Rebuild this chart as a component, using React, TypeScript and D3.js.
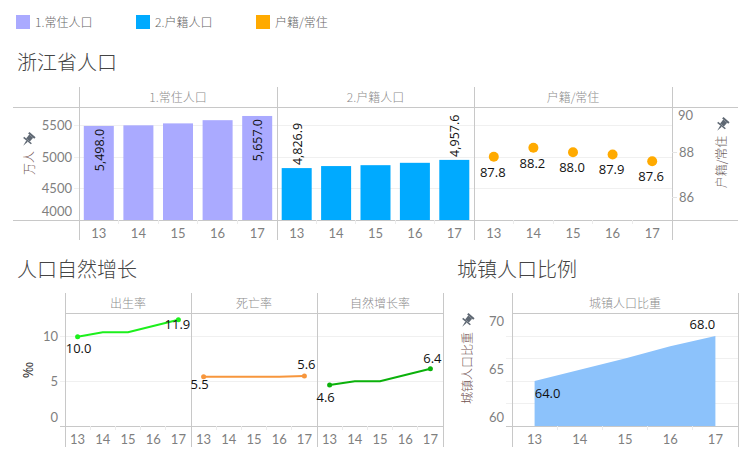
import { scaleBand, scaleLinear, line, area, format } from 'd3'

const years = ['13', '14', '15', '16', '17']
const residents = [5498, 5508, 5539, 5590, 5657]
const registered = [4826.9, 4859.2, 4873.3, 4910.9, 4957.6]
const ratio = [87.8, 88.2, 88.0, 87.9, 87.6]
const birthRate = [10.0, 10.5, 10.5, 11.2, 11.9]
const deathRate = [5.5, 5.5, 5.5, 5.5, 5.6]
const naturalRate = [4.6, 5.0, 5.0, 5.7, 6.4]
const urbanShare = [64.0, 65.0, 66.0, 67.1, 68.0]

const popTicks = [5500, 5000, 4500, 4000]
const ratioTicks = [88, 86]
const rateTicks = [10, 5, 0]
const urbanTicks = [70, 65, 60]

const LINE = '#c8c8c8'
const GRID = '#f0f0f0'
const TICK = '#7f7f7f'
const HEAD = '#8c8c8c'
const TITLE = '#444'
const CJK = '"Noto Sans CJK SC", sans-serif'
const NUM = 'Lato, sans-serif'
const LABEL = '"Open Sans", sans-serif'

const fmt1 = format(',.1f')
const fix1 = format('.1f')

// top row
const topY = { header: 87, top: 107, bottom: 220, end: 240 }
const topX = [79, 277, 474, 672]
const popY = scaleLinear().domain([4000, 5800]).range([220, 107])
const ratioY = scaleLinear().domain([85, 90]).range([220, 107])

// bottom row
const botY = { header: 293, top: 313, bottom: 426, end: 447 }
const botX = [65, 191, 317, 443]
const rateY = scaleLinear().domain([0, 12.65]).range([426, 313])
const urbanX = [512, 738]
const urbanY = scaleLinear().domain([60, 70]).range([426, 313.5])

function band(x0: number, x1: number) {
  return scaleBand<string>().domain(years).range([x0, x1])
}
function mid(b: ReturnType<typeof band>, y: string) {
  return (b(y) ?? 0) + b.bandwidth() / 2
}

function Pin({ x, y }: { x: number; y: number }) {
  return (
    <g transform={`translate(${x},${y}) rotate(40)`} fill="#5f6873">
      <rect x={-4} y={-7} width={8} height={2} />
      <rect x={-2.5} y={-5} width={5} height={5} />
      <path d="M-5 0 L5 0 L5 1.5 L-5 1.5 Z" />
      <path d="M-1 1.5 L0 7.5 L1 1.5 Z" />
    </g>
  )
}

function Cats({ x0, x1, y }: { x0: number; x1: number; y: number }) {
  const b = band(x0, x1)
  return (
    <g>
      {years.map((c, i) => (
        <g key={c}>
          {i > 0 && <line x1={b(c)} x2={b(c)} y1={y} y2={y + 4} stroke="#ececec" />}
          <text x={mid(b, c)} y={y + 18} textAnchor="middle" fontFamily={NUM} fontSize={13} fill={TICK}>
            {c}
          </text>
        </g>
      ))}
    </g>
  )
}

function Head({ x0, x1, y, text }: { x0: number; x1: number; y: number; text: string }) {
  return (
    <text x={(x0 + x1) / 2} y={y} textAnchor="middle" fontFamily={CJK} fontSize={12} fontWeight={300} fill={HEAD}>
      {text}
    </text>
  )
}

function Bars({ x0, x1, values, fill, inside }: { x0: number; x1: number; values: number[]; fill: string; inside: boolean }) {
  const b = band(x0, x1)
  return (
    <g>
      {values.map((v, i) => (
        <rect key={i} x={mid(b, years[i]) - 15} y={popY(v)} width={30} height={220 - popY(v)} fill={fill} />
      ))}
      {[0, 4].map((i) => {
        const cx = mid(b, years[i])
        const cy = popY(values[i]) + (inside ? 3 : -3)
        return (
          <text
            key={i}
            transform={`translate(${cx + 5},${cy}) rotate(-90)`}
            textAnchor={inside ? 'end' : 'start'}
            fontFamily={LABEL}
            fontSize={12.5}
            fill="#111"
          >
            {fmt1(values[i])}
          </text>
        )
      })}
    </g>
  )
}

function RateLine({
  x0,
  x1,
  values,
  color,
  offsets,
}: {
  x0: number
  x1: number
  values: number[]
  color: string
  offsets: [number, number][]
}) {
  const b = band(x0, x1)
  const d = line<number>()
    .x((_, i) => mid(b, years[i]))
    .y((v) => rateY(v))(values)
  return (
    <g>
      {d && <path d={d} fill="none" stroke={color} strokeWidth={2} />}
      {[0, 4].map((i, k) => (
        <g key={i}>
          <circle cx={mid(b, years[i])} cy={rateY(values[i])} r={2.5} fill={color} />
          <text
            x={mid(b, years[i]) + offsets[k][0]}
            y={rateY(values[i]) + offsets[k][1]}
            textAnchor="middle"
            fontFamily={LABEL}
            fontSize={13}
            fill="#111"
          >
            {fix1(values[i])}
          </text>
        </g>
      ))}
    </g>
  )
}

function AxisLabel({ x, y, text, fill }: { x: number; y: number; text: string; fill: string }) {
  return (
    <text
      transform={`translate(${x},${y}) rotate(-90)`}
      textAnchor="middle"
      fontFamily={CJK}
      fontSize={12}
      fontWeight={300}
      fill={fill}
    >
      {text}
    </text>
  )
}

export default function App() {
  const ux = band(urbanX[0], urbanX[1])
  const urbanArea = area<number>()
    .x((_, i) => mid(ux, years[i]))
    .y0(426)
    .y1((v) => urbanY(v))(urbanShare)
  const rb = band(topX[2], topX[3])

  return (
    <svg width={754} height={461} style={{ position: 'absolute', left: 0, top: 0 }}>
      {/* rules are 1px hairlines in the reference */}
      <style>{'line{shape-rendering:crispEdges}'}</style>
      <rect width={754} height={461} fill="#fff" />

      {/* legend */}
      {[
        ['1.常住人口', '#aaaaff', 16],
        ['2.户籍人口', '#00aaff', 136],
        ['户籍/常住', '#ffaa00', 256],
      ].map(([t, c, x]) => (
        <g key={t as string}>
          <rect x={x as number} y={15} width={14} height={14} fill={c as string} />
          <text x={(x as number) + 19} y={27} fontFamily={CJK} fontSize={12} fontWeight={300} fill="#666">
            {t}
          </text>
        </g>
      ))}

      {/* titles */}
      <text x={17} y={70} fontFamily={CJK} fontSize={20} fontWeight={300} fill={TITLE}>浙江省人口</text>
      <text x={17} y={277} fontFamily={CJK} fontSize={20} fontWeight={300} fill={TITLE}>人口自然增长</text>
      <text x={457} y={277} fontFamily={CJK} fontSize={20} fontWeight={300} fill={TITLE}>城镇人口比例</text>

      {/* top row: grid and frame */}
      {[5500, 5000, 4500].map((t) => (
        <line key={t} x1={74} x2={672} y1={popY(t)} y2={popY(t)} stroke={GRID} />
      ))}
      <Head x0={topX[0]} x1={topX[1]} y={102} text="1.常住人口" />
      <Head x0={topX[1]} x1={topX[2]} y={102} text="2.户籍人口" />
      <Head x0={topX[2]} x1={topX[3]} y={102} text="户籍/常住" />

      <Bars x0={topX[0]} x1={topX[1]} values={residents} fill="#aaaaff" inside />
      <Bars x0={topX[1]} x1={topX[2]} values={registered} fill="#00aaff" inside={false} />
      {ratio.map((v, i) => (
        <g key={i}>
          <circle cx={mid(rb, years[i])} cy={ratioY(v)} r={5} fill="#ffaa00" />
          <text x={mid(rb, years[i]) - 1} y={ratioY(v) + 20} textAnchor="middle" fontFamily={LABEL} fontSize={13} fill="#111">
            {fix1(v)}
          </text>
        </g>
      ))}
      <line x1={13} x2={738} y1={topY.top + 0.5} y2={topY.top + 0.5} stroke={LINE} />
      <line x1={13} x2={738} y1={topY.bottom + 0.5} y2={topY.bottom + 0.5} stroke={LINE} />
      {topX.map((x) => (
        <line key={x} x1={x + 0.5} x2={x + 0.5} y1={topY.header} y2={topY.end} stroke={LINE} />
      ))}
      <Cats x0={topX[0]} x1={topX[1]} y={topY.bottom} />
      <Cats x0={topX[1]} x1={topX[2]} y={topY.bottom} />
      <Cats x0={topX[2]} x1={topX[3]} y={topY.bottom} />

      {popTicks.map((t) => (
        <text
          key={t}
          x={72}
          y={(t === 4000 ? popY(t) - 9 : popY(t)) + 4.5}
          textAnchor="end"
          fontFamily={NUM}
          fontSize={13}
          fill={TICK}
        >
          {t}
        </text>
      ))}
      {ratioTicks.map((t) => (
        <g key={t}>
          <line x1={672} x2={677} y1={ratioY(t)} y2={ratioY(t)} stroke="#e4e4e4" />
          <text x={679} y={ratioY(t) + 4.5} fontFamily={NUM} fontSize={13} fill={TICK}>{t}</text>
        </g>
      ))}
      <text x={678} y={120} fontFamily={NUM} fontSize={13} fill={TICK}>90</text>
      <AxisLabel x={34} y={163} text="万人" fill="#705050" />
      <AxisLabel x={726} y={162} text="户籍/常住" fill="#705f5f" />
      <Pin x={28} y={140} />
      <Pin x={722} y={125} />

      {/* bottom left */}
      {[10, 5].map((t) => (
        <line key={t} x1={60} x2={443} y1={rateY(t)} y2={rateY(t)} stroke={GRID} />
      ))}
      <line x1={65} x2={443} y1={botY.top + 0.5} y2={botY.top + 0.5} stroke={LINE} />
      <line x1={60} x2={443} y1={botY.bottom + 0.5} y2={botY.bottom + 0.5} stroke={LINE} />
      {botX.map((x) => (
        <line key={x} x1={x + 0.5} x2={x + 0.5} y1={botY.header} y2={botY.end} stroke={LINE} />
      ))}
      <Head x0={botX[0]} x1={botX[1]} y={308} text="出生率" />
      <Head x0={botX[1]} x1={botX[2]} y={308} text="死亡率" />
      <Head x0={botX[2]} x1={botX[3]} y={308} text="自然增长率" />
      <RateLine x0={botX[0]} x1={botX[1]} values={birthRate} color="#1cf01c" offsets={[[1, 16], [-1, 9]]} />
      <RateLine x0={botX[1]} x1={botX[2]} values={deathRate} color="#f7963c" offsets={[[-4, 12], [2, -7]]} />
      <RateLine x0={botX[2]} x1={botX[3]} values={naturalRate} color="#0bb10b" offsets={[[-4, 17], [2, -6]]} />
      <Cats x0={botX[0]} x1={botX[1]} y={botY.bottom} />
      <Cats x0={botX[1]} x1={botX[2]} y={botY.bottom} />
      <Cats x0={botX[2]} x1={botX[3]} y={botY.bottom} />
      {rateTicks.map((t) => (
        <text
          key={t}
          x={58}
          y={(t === 0 ? rateY(t) - 9 : rateY(t)) + 4.5}
          textAnchor="end"
          fontFamily={NUM}
          fontSize={13}
          fill={TICK}
        >
          {t}
        </text>
      ))}
      <text transform="translate(33,370) rotate(-90)" textAnchor="middle" fontFamily={LABEL} fontSize={14} fill="#333">‰</text>

      {/* bottom right */}
      {[68, 66, 64, 62].map((t) => (
        <line key={t} x1={506} x2={738} y1={urbanY(t)} y2={urbanY(t)} stroke={GRID} />
      ))}
      {urbanArea && <path d={urbanArea} fill="#8cc2fb" />}
      <line x1={512} x2={738} y1={botY.top + 0.5} y2={botY.top + 0.5} stroke={LINE} />
      <line x1={506} x2={738} y1={botY.bottom + 0.5} y2={botY.bottom + 0.5} stroke={LINE} />
      {urbanX.map((x) => (
        <line key={x} x1={x + 0.5} x2={x + 0.5} y1={botY.header} y2={botY.end} stroke={LINE} />
      ))}
      <Head x0={urbanX[0]} x1={urbanX[1]} y={308} text="城镇人口比重" />
      <Cats x0={urbanX[0]} x1={urbanX[1]} y={botY.bottom} />
      <text x={mid(ux, years[0]) + 13} y={398} textAnchor="middle" fontFamily={LABEL} fontSize={13} fill="#111">{fix1(urbanShare[0])}</text>
      <text x={mid(ux, years[4]) - 13} y={329} textAnchor="middle" fontFamily={LABEL} fontSize={13} fill="#111">{fix1(urbanShare[4])}</text>
      {urbanTicks.map((t) => (
        <text
          key={t}
          x={504}
          y={(t === 70 ? urbanY(t) + 8 : t === 60 ? urbanY(t) - 9 : urbanY(t)) + 4.5}
          textAnchor="end"
          fontFamily={NUM}
          fontSize={13}
          fill={TICK}
        >
          {t}
        </text>
      ))}
      <AxisLabel x={472} y={368} text="城镇人口比重" fill="#705050" />
      <Pin x={467} y={321} />
    </svg>
  )
}
